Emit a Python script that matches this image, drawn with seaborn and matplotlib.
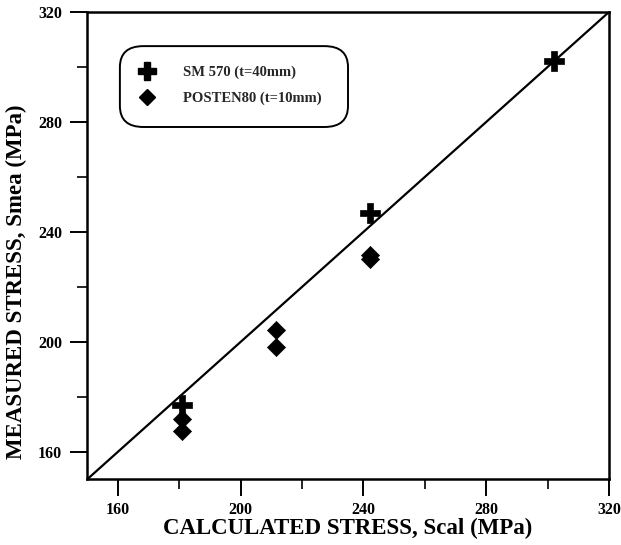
import matplotlib
matplotlib.use("Agg")
import matplotlib.pyplot as plt
import seaborn as sns
import pandas as pd
from matplotlib.patches import FancyBboxPatch
from matplotlib.lines import Line2D
from matplotlib.ticker import MultipleLocator

sns.set_theme(style="white")
plt.rcParams['font.family'] = ['Liberation Serif', 'DejaVu Serif']

# Data
sm570_x = [181, 242, 302]
sm570_y = [177, 247, 302]
posten_x = [181, 181, 211.5, 211.5, 242, 242]
posten_y = [172, 167.5, 204.5, 198, 231.5, 230]
series_names = ["SM 570 (t=40mm)", "POSTEN80 (t=10mm)"]
ticks = [160, 200, 240, 280, 320]

df_sm = pd.DataFrame({"x": sm570_x, "y": sm570_y})
df_po = pd.DataFrame({"x": posten_x, "y": posten_y})

fig = plt.figure(figsize=(6.21, 5.45), dpi=100)
ax = fig.add_axes([0.1401, 0.1202, 0.8406, 0.8578])

ax.plot([150, 320], [150, 320], color="black", lw=1.6, zorder=1)

sns.scatterplot(data=df_po, x="x", y="y", marker="D", color="black", s=85,
                edgecolor="black", linewidth=0.5, ax=ax, legend=False, zorder=3)
sns.scatterplot(data=df_sm, x="x", y="y", marker="P", color="black", s=190,
                edgecolor="black", linewidth=0.5, ax=ax, legend=False, zorder=3)

ax.set_xlim(150, 320)
ax.set_ylim(150, 320)
ax.set_xticks(ticks)
ax.set_yticks(ticks)
ax.xaxis.set_minor_locator(MultipleLocator(20))
ax.yaxis.set_minor_locator(MultipleLocator(20))
ax.tick_params(which="major", direction="out", length=12, width=1.4, color="black",
               bottom=True, left=True, top=False, right=False, pad=6)
ax.tick_params(axis="x", which="major", pad=4)
ax.tick_params(which="minor", direction="out", length=7, width=1.2, color="black",
               bottom=True, left=True, top=False, right=False)
for lab in ax.get_xticklabels() + ax.get_yticklabels():
    lab.set_fontweight("bold")
    lab.set_fontsize(11.5)
    lab.set_color("black")
for sp in ax.spines.values():
    sp.set_color("black")
    sp.set_linewidth(1.8)

ax.set_xlabel("CALCULATED STRESS, Scal (MPa)", fontsize=16.5, fontweight="bold", color="black")
ax.xaxis.set_label_coords(0.5, -0.0825)
ax.set_ylabel("MEASURED STRESS, Smea (MPa)", fontsize=16.5, fontweight="bold", color="black")
ax.yaxis.set_label_coords(-0.115, 0.4225)

# Legend with rounded frame
box = FancyBboxPatch((0.063, 0.754), 0.437, 0.173, boxstyle="round,pad=0,rounding_size=0.045",
                     transform=ax.transAxes, facecolor="white", edgecolor="black", lw=1.4, zorder=4)
ax.add_patch(box)
handles = [Line2D([], [], marker="P", color="black", ls="none", markersize=13),
           Line2D([], [], marker="D", color="black", ls="none", markersize=8.5)]
leg = ax.legend(handles, series_names, loc="upper left", bbox_to_anchor=(0.0933, 0.885),
                frameon=False, fontsize=10.5, handlelength=1.5, handletextpad=1.75,
                labelspacing=0.85, borderpad=0, borderaxespad=0)
for t in leg.get_texts():
    t.set_fontweight("bold")
leg.set_zorder(5)

fig.savefig("out.png", dpi=100)
